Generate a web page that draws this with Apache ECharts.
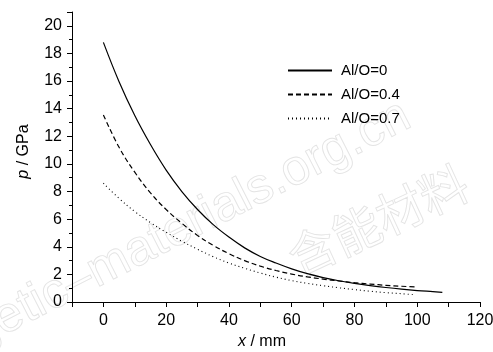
<!DOCTYPE html>
<html>
<head>
<meta charset="utf-8">
<script src="https://cdn.jsdelivr.net/npm/echarts@6/dist/echarts.min.js"></script>
<style>
  html, body { margin: 0; padding: 0; background: #fff; }
  #chart { width: 493px; height: 352px; }
</style>
</head>
<body>
<div id="chart"></div>
<script>
// values (x in mm, p in GPa)
var xSolid  = [0, 5, 10, 15, 20, 25, 30, 35, 40, 45, 50, 55, 60, 65, 70, 75, 80, 85, 90, 95, 100, 105, 108];
var pSolid  = [18.8, 15.95, 13.5, 11.4, 9.55, 8.0, 6.7, 5.6, 4.7, 3.92, 3.3, 2.82, 2.4, 2.05, 1.77, 1.54, 1.35, 1.19, 1.05, 0.93, 0.83, 0.75, 0.7];

var xDashed = [0, 5, 10, 15, 20, 25, 30, 35, 40, 45, 50, 55, 60, 65, 70, 75, 80, 85, 90, 95, 100];
var pDashed = [13.55, 11.2, 9.4, 7.9, 6.7, 5.7, 4.82, 4.1, 3.5, 3.0, 2.6, 2.28, 2.02, 1.82, 1.66, 1.52, 1.4, 1.3, 1.21, 1.14, 1.09];

var xDotted = [0, 5, 10, 15, 20, 25, 30, 35, 40, 45, 50, 55, 60, 65, 70, 75, 80, 85, 90, 95, 99];
var pDotted = [8.6, 7.5, 6.55, 5.75, 5.05, 4.4, 3.82, 3.28, 2.82, 2.44, 2.1, 1.8, 1.55, 1.35, 1.18, 1.03, 0.9, 0.78, 0.68, 0.6, 0.53];

var seriesNames = ['Al/O=0', 'Al/O=0.4', 'Al/O=0.7'];

function pairs(xs, ys) {
    return xs.map(function (x, i) { return [x, ys[i]]; });
}

var FONT = "'Liberation Sans', Arial, sans-serif";

var chart = echarts.init(document.getElementById('chart'));

chart.setOption({
    animation: false,
    backgroundColor: '#fff',
    textStyle: { fontFamily: FONT, color: '#000' },
    grid: { left: 72, right: 13, top: 12, bottom: 50, containLabel: false, outerBoundsMode: 'none' },
    legend: {
        orient: 'vertical',
        left: 282,
        top: 58,
        itemWidth: 44,
        itemHeight: 14,
        itemGap: 9,
        itemStyle: { opacity: 0 },
        textStyle: { fontFamily: FONT, fontSize: 15, color: '#000', padding: [0, 0, 0, 4] },
        data: seriesNames
    },
    // faint publisher watermark
    graphic: [
        {
            type: 'text',
            x: -106, y: 404,
            rotation: 0.473,
            z: -10,
            silent: true,
            style: {
                text: 'energetic\u2013materials.org.cn',
                font: '50px Arial, sans-serif',
                verticalAlign: 'bottom',
                fill: 'rgba(255,255,255,0)',
                stroke: '#e4e4e4',
                lineWidth: 0.9
            }
        },
        {
            type: 'text',
            x: 301, y: 282,
            rotation: 0.433,
            z: -10,
            silent: true,
            style: {
                text: '含能材料',
                font: '48px "Noto Sans CJK SC", sans-serif',
                verticalAlign: 'bottom',
                fill: 'rgba(255,255,255,0)',
                stroke: '#e4e4e4',
                lineWidth: 0.9
            }
        }
    ],
    xAxis: {
        type: 'value',
        min: -10,
        max: 120,
        interval: 10,
        name: '{i|x} / mm',
        nameLocation: 'middle',
        nameGap: 30,
        nameTextStyle: {
            fontSize: 16, color: '#000', fontFamily: FONT,
            padding: [0, 28, 0, 0],
            rich: { i: { fontStyle: 'italic', fontSize: 16, fontFamily: FONT } }
        },
        splitLine: { show: false },
        axisLine: { onZero: false, lineStyle: { color: '#000', width: 1 } },
        axisTick: { length: 5, lineStyle: { color: '#000' } },
        axisLabel: {
            margin: 11,
            fontSize: 16,
            color: '#000',
            formatter: function (v) { return (v >= 0 && v % 20 === 0) ? v : ''; }
        }
    },
    yAxis: {
        type: 'value',
        min: 0,
        max: 21,
        interval: 2,
        name: '{i|p} / GPa',
        nameLocation: 'middle',
        nameGap: 40,
        nameTextStyle: {
            fontSize: 16, color: '#000', fontFamily: FONT,
            padding: [0, 0, 0, 11],
            rich: { i: { fontStyle: 'italic', fontSize: 16, fontFamily: FONT } }
        },
        splitLine: { show: false },
        axisLine: { show: true, onZero: false, lineStyle: { color: '#000', width: 1 } },
        axisTick: { show: true, length: 5, lineStyle: { color: '#000' } },
        minorTick: { show: true, splitNumber: 2, length: 3, lineStyle: { color: '#000' } },
        axisLabel: {
            margin: 10,
            fontSize: 16,
            color: '#000',
            formatter: function (v) { return v > 20 ? '' : v; }
        }
    },
    series: [
        {
            name: seriesNames[0],
            type: 'line',
            smooth: 0.4,
            symbol: 'none',
            data: pairs(xSolid, pSolid),
            lineStyle: { color: '#000', width: 1.2, type: 'solid' },
            itemStyle: { color: '#000' }
        },
        {
            name: seriesNames[1],
            type: 'line',
            smooth: 0.4,
            symbol: 'none',
            data: pairs(xDashed, pDashed),
            lineStyle: { color: '#000', width: 1.2, type: [5, 3] },
            itemStyle: { color: '#000' }
        },
        {
            name: seriesNames[2],
            type: 'line',
            smooth: 0.4,
            symbol: 'none',
            data: pairs(xDotted, pDotted),
            lineStyle: { color: '#000', width: 1.1, type: [1, 3] },
            itemStyle: { color: '#000' }
        }
    ]
});
</script>
</body>
</html>
